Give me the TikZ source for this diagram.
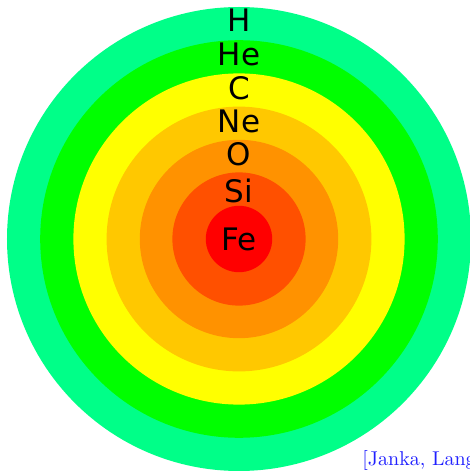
\documentclass[tikz,border=0pt]{standalone}
\usepackage{fontspec}
\usepackage{tikz}
\usetikzlibrary{positioning}
\newfontfamily\shellfont{DejaVu Sans}
\definecolor{shellH}{HTML}{00FF88}
\definecolor{shellHe}{HTML}{00FF00}
\definecolor{shellC}{HTML}{FFFF00}
\definecolor{shellNe}{HTML}{FFC800}
\definecolor{shellO}{HTML}{FF9200}
\definecolor{shellSi}{HTML}{FF5000}
\definecolor{shellFe}{HTML}{FF0000}
\definecolor{citeBlue}{HTML}{2020FF}

\begin{document}
\begin{tikzpicture}[
      x=0.5pt, y=0.5pt,
      shell/.style={circle, draw=none, inner sep=0pt},
      elem/.style={font=\shellfont\fontsize{15.5pt}{16pt}\selectfont, text=black, inner sep=0pt},
      cite/.style={font=\normalsize, text=citeBlue, anchor=base west, inner sep=0pt}
    ]
      \useasboundingbox (-239,-232) rectangle (231,239);

      % onion shells, outside in
      \node[shell, fill=shellH,  minimum size=232pt]   (sH)  at (0,0) {};
      \node[shell, fill=shellHe, minimum size=198.8pt] (sHe) at (0,0) {};
      \node[shell, fill=shellC,  minimum size=165.6pt] (sC)  at (0,0) {};
      \node[shell, fill=shellNe, minimum size=132.4pt] (sNe) at (0,0) {};
      \node[shell, fill=shellO,  minimum size=99.2pt]  (sO)  at (0,0) {};
      \node[shell, fill=shellSi, minimum size=66.6pt]  (sSi) at (0,0) {};
      \node[shell, fill=shellFe, minimum size=33.2pt]  (sFe) at (0,0) {};

      % element labels
      \node[elem] (lH)  at (0,219) {H};
      \node[elem] (lHe) at (0,185) {He};
      \node[elem] (lC)  at (0,151) {C};
      \node[elem] (lNe) at (0,118) {Ne};
      \node[elem] (lO)  at (0,85)  {O};
      \node[elem] (lSi) at (0,48)  {Si};
      \node[elem] (lFe) at (0,0)   {Fe};

      \node[cite] (ref) at (123,-226) {[Janka, Langanke]};
    \end{tikzpicture}
\end{document}
